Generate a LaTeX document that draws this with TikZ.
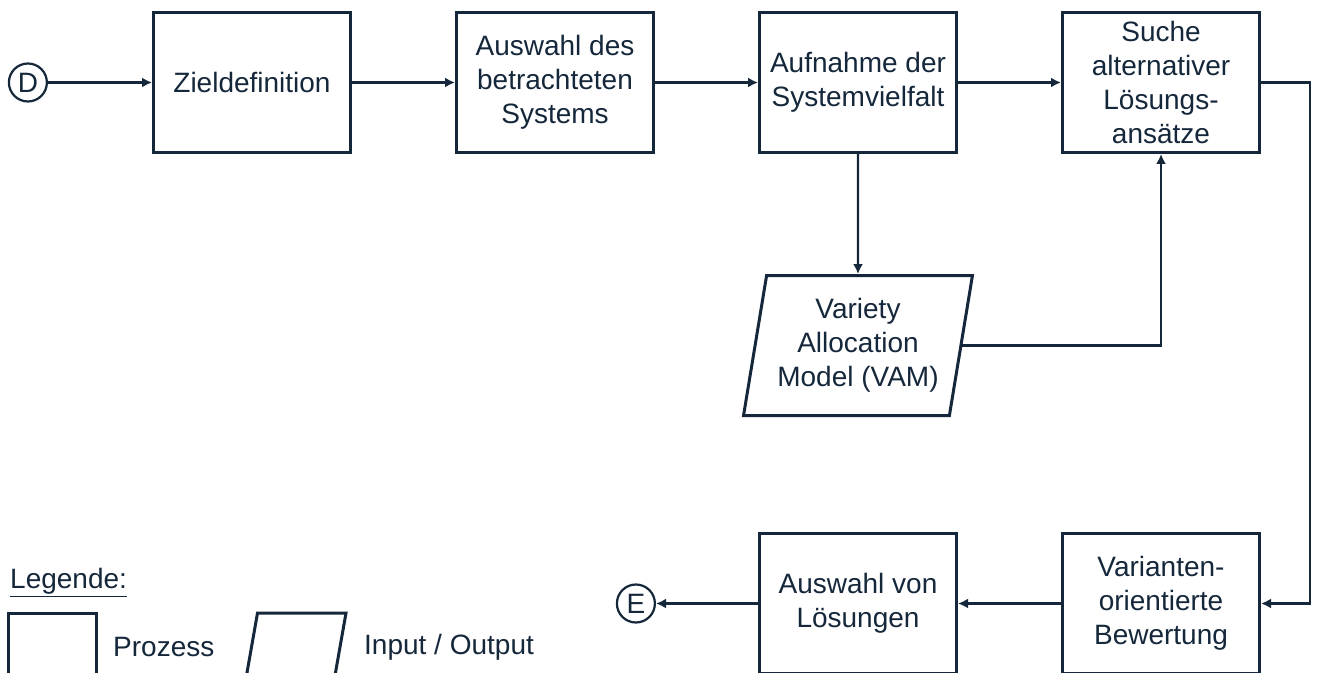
\documentclass[tikz,border=0pt]{standalone}
\usepackage{fontspec}
\setmainfont{Liberation Sans}
\usetikzlibrary{positioning,shapes.geometric,arrows.meta}
\definecolor{navy}{HTML}{15273A}

\begin{document}
\begin{tikzpicture}[>={Latex[length=5pt,width=5pt]}, line width=1.2pt, color=navy, node distance=51.5pt,
    font=\fontsize{14}{17}\selectfont,
    prozess/.style={draw, line width=1.5pt, align=center, minimum width=98.5pt, minimum height=70pt, inner sep=2pt},
    io/.style={draw, line width=1.5pt, trapezium, trapezium left angle=78, trapezium right angle=102,
        trapezium stretches=true, align=center, minimum width=114.5pt, minimum height=70pt, inner sep=1pt},
    marke/.style={draw, circle, line width=1.1pt, minimum size=19pt, inner sep=0pt}]
    \useasboundingbox (0,0) rectangle (660pt,-336.5pt);

    % Nodes
    \node[prozess] (ziel) at (126pt,-41.25pt) {Zieldefinition};
    \node[prozess, right=of ziel] (auswahl) {Auswahl des\\betrachteten\\Systems};
    \node[prozess, right=of auswahl] (aufnahme) {Aufnahme der\\Systemvielfalt};
    \node[prozess, right=of aufnahme] (suche) {Suche\\alternativer\\Lösungs-\\ansätze};
    \node[marke, left=52pt of ziel] (D) {D};

    \node[io, below=60pt of aufnahme] (vam) {Variety\\Allocation\\Model (VAM)};

    \node[prozess, below=189pt of suche] (varianten) {Varianten-\\orientierte\\Bewertung};
    \node[prozess, left=of varianten] (loesungen) {Auswahl von\\Lösungen};
    \node[marke, left=51pt of loesungen] (E) {E};

    % Legend
    \node[anchor=west, inner sep=0pt] (legende) at (4.5pt,-291.5pt) {\underline{Legende:}};
    \node[prozess, minimum width=44pt, minimum height=44pt] (lprozess) at (26pt,-328.5pt) {};
    \node[anchor=west, inner sep=0pt] (lprozesstext) at (56pt,-323.5pt) {Prozess};
    \node[io, minimum width=52pt, minimum height=44pt] (lio) at (147pt,-328.5pt) {};
    \node[anchor=west, inner sep=0pt] (liotext) at (181.5pt,-323.5pt) {Input / Output};

    % Connections
    \draw[->] (D) -- (ziel);
    \draw[->] (ziel) -- (auswahl);
    \draw[->] (auswahl) -- (aufnahme);
    \draw[->] (aufnahme) -- (suche);
    \draw[->] (aufnahme) -- (vam);
    \draw[->] (vam.east) -| (suche.south);
    \draw[->] (suche.east) -- ++(24.5pt,0) |- (varianten.east);
    \draw[->] (varianten) -- (loesungen);
    \draw[->] (loesungen) -- (E);
\end{tikzpicture}
\end{document}
